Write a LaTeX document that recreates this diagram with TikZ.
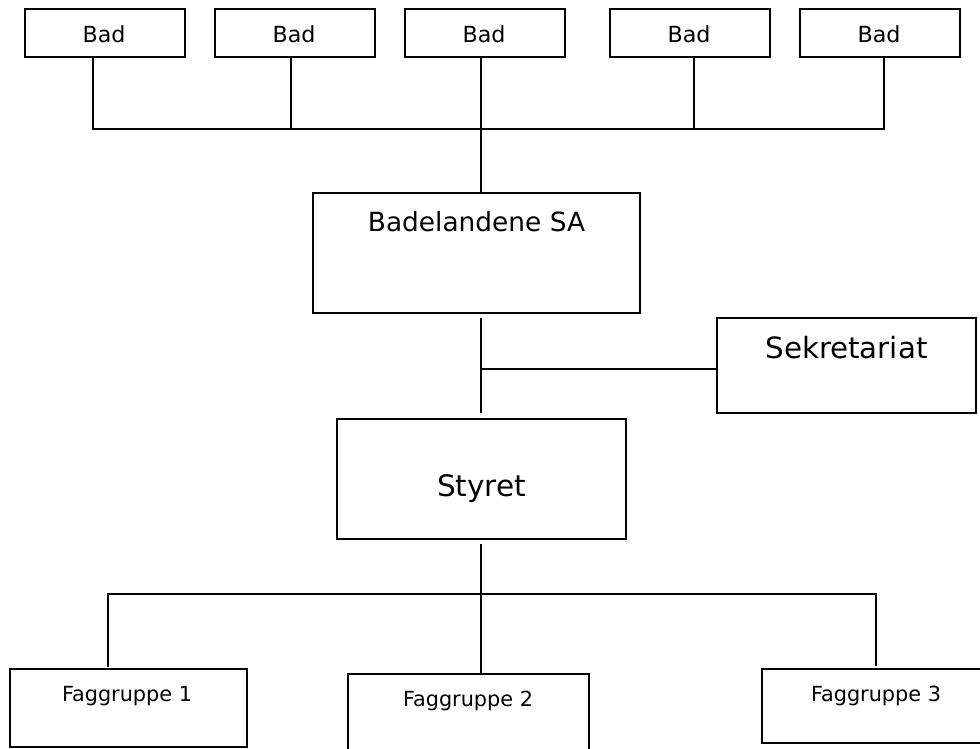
\documentclass[tikz,border=0pt]{standalone}
\usepackage{fontspec}
\setmainfont{DejaVu Sans}
\begin{document}
\begin{tikzpicture}[x=1pt,y=-1pt,
  box/.style={draw=black, line width=1.6pt, rectangle, inner sep=0pt},
  conn/.style={draw=black, line width=1.6pt},
  txt/.style={anchor=base, inner sep=0pt, text=black},
  fsbad/.style={font=\fontsize{22.2}{26}\selectfont},
  fsfag/.style={font=\fontsize{20.8}{24}\selectfont}]
\useasboundingbox (0,0) rectangle (980,749);
\clip (0,0) rectangle (980,749);
% top boxes
\node[box, minimum width=160pt, minimum height=48pt] (b1) at (105,33) {};
\node[box, minimum width=160pt, minimum height=48pt] (b2) at (295,33) {};
\node[box, minimum width=160pt, minimum height=48pt] (b3) at (485,33) {};
\node[box, minimum width=160pt, minimum height=48pt] (b4) at (690,33) {};
\node[box, minimum width=160pt, minimum height=48pt] (b5) at (880,33) {};
\node[txt, fsbad] (t1) at (104,42.7) {Bad};
\node[txt, fsbad] (t2) at (294,42.7) {Bad};
\node[txt, fsbad] (t3) at (484,42.7) {Bad};
\node[txt, fsbad] (t4) at (689,42.7) {Bad};
\node[txt, fsbad] (t5) at (879,42.7) {Bad};
% main boxes
\node[box, minimum width=327pt, minimum height=120pt] (bsa) at (476.5,253) {};
\node[txt, font=\fontsize{26.4}{30}\selectfont] (tbsa) at (476.5,231) {Badelandene SA};
\node[box, minimum width=259pt, minimum height=95pt] (sek) at (846.5,365.5) {};
\node[txt, font=\fontsize{29.3}{34}\selectfont] (tsek) at (846.5,358) {Sekretariat};
\node[box, minimum width=289pt, minimum height=120pt] (sty) at (481.5,479) {};
\node[txt, font=\fontsize{29.5}{34}\selectfont] (tsty) at (481.5,496) {Styret};
% bottom boxes
\node[box, line width=1.4pt, minimum width=237pt, minimum height=78pt] (f1) at (128.5,708) {};
\node[txt, fsfag] (tf1) at (127,701) {Faggruppe 1};
\node[box, line width=1.4pt, minimum width=241pt, minimum height=106pt] (f2) at (468.5,727) {};
\node[txt, fsfag] (tf2) at (468,706.7) {Faggruppe 2};
\node[box, line width=1.4pt, minimum width=228pt, minimum height=74pt] (f3) at (876,706) {};
\node[txt, fsfag] (tf3) at (876,701) {Faggruppe 3};
% top bus
\coordinate (j1) at (93,129);
\coordinate (j2) at (291,129);
\coordinate (j3) at (481,129);
\coordinate (j4) at (694,129);
\coordinate (j5) at (884,129);
\draw[conn] (j1 |- b1.south) -- (j1) -- (j5) -- (j5 |- b5.south);
\draw[conn] (j2 |- b2.south) -- (j2);
\draw[conn] (j4 |- b4.south) -- (j4);
\draw[conn] (j3 |- b3.south) -- (j3 |- bsa.north);
% middle
\coordinate (m1) at (481,318);
\coordinate (m2) at (481,413);
\coordinate (mj) at (481,369);
\draw[conn] (m1) -- (m2);
\draw[conn, line width=1.4pt] (mj) -- (mj -| sek.west);
% bottom bus
\coordinate (s1) at (481,544);
\coordinate (k1) at (108,594);
\coordinate (k2) at (481,594);
\coordinate (k3) at (876,594);
\coordinate (e1) at (108,667);
\coordinate (e3) at (876,666);
\draw[conn] (s1) -- (s1 |- f2.north);
\draw[conn, line width=1.4pt] (e1) -- (k1) -- (k3) -- (e3);
\end{tikzpicture}
\end{document}
